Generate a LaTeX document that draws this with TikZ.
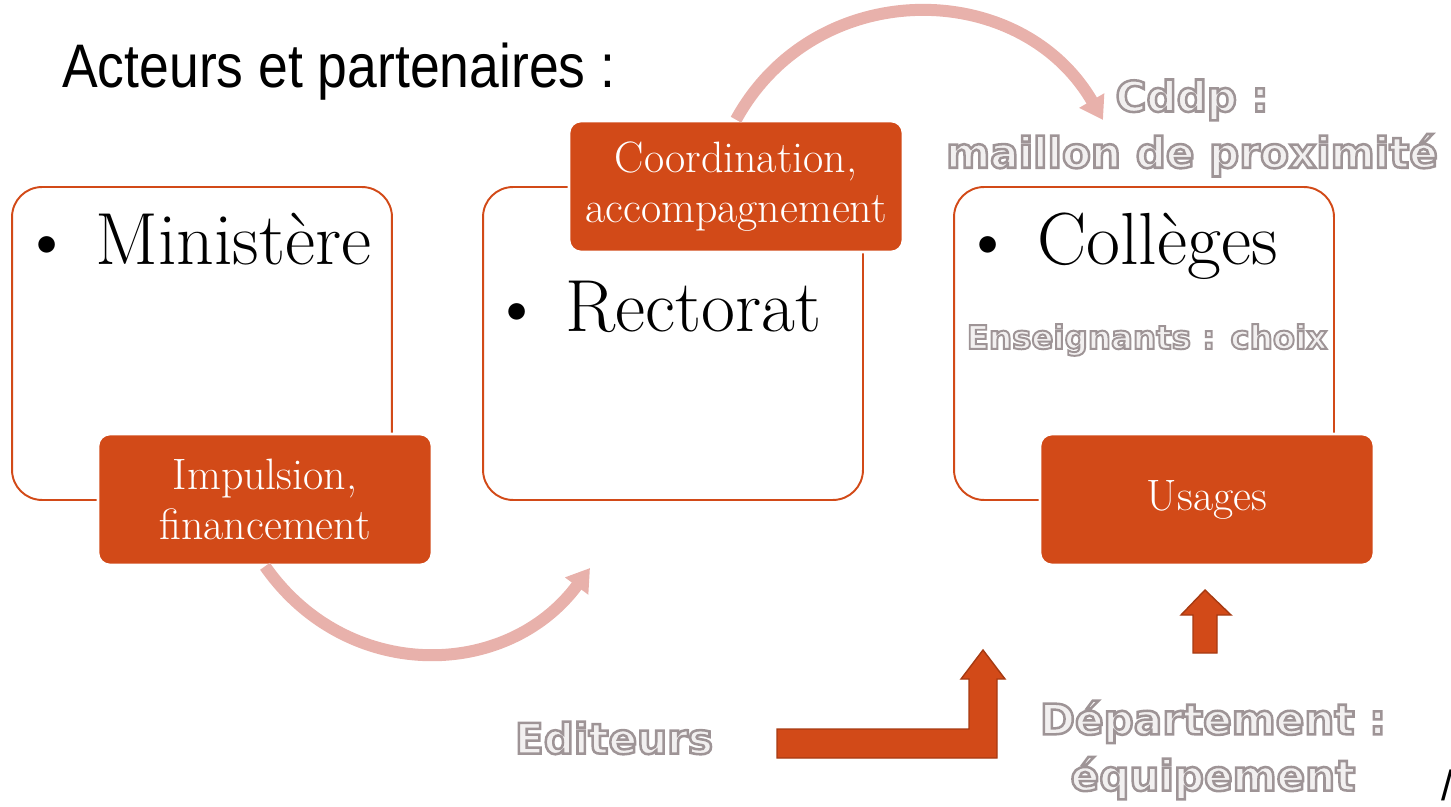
\documentclass[tikz,border=0pt]{standalone}
\usepackage{fontspec}
\usetikzlibrary{arrows.meta}
\newfontfamily\titlefont{Liberation Sans}
\newfontfamily\ghostfont{DejaVu Sans Bold}[FakeBold=6]
\definecolor{rust}{HTML}{D24A18}
\definecolor{rustdark}{HTML}{A63A12}
\definecolor{blush}{HTML}{E8B1AB}
% hollow letters: light fill, grey stroke
\newcommand\ghost[1]{\special{pdf:bcolor [0.95 0.94 0.94] [0.62 0.58 0.59]}#1\special{pdf:ecolor}}

\begin{document}
\begin{tikzpicture}[x=0.02cm, y=-0.02cm,
  bigbox/.style={draw=rust, line width=1.1pt, fill=white, rounded corners=0.6cm,
    minimum width=7.6cm, minimum height=6.26cm, inner sep=0pt},
  tagbox/.style={draw=white, line width=1.5pt, fill=rust, rounded corners=0.24cm,
    minimum width=6.68cm, minimum height=2.62cm, text=white, align=center,
    font=\fontsize{25}{28.5}\selectfont},
  item/.style={anchor=base west, inner sep=0pt, font=\fontsize{42}{48}\selectfont},
  dot/.style={anchor=base, inner sep=0pt, font=\fontsize{42}{48}\selectfont},
  faded/.style={align=center, inner sep=0pt, font=\ghostfont\fontsize{24}{32}\selectfont},
  flow/.style={draw=blush, line width=0.24cm, -{Triangle[length=0.45cm, width=0.55cm]}},
  block/.style={fill=rust, draw=rustdark, line width=0.8pt}]
\useasboundingbox (0,0) rectangle (1451,807);

\node[anchor=base west, inner sep=0pt, xscale=0.87, font=\titlefont\fontsize{35}{40}\selectfont]
  (title) at (62,88) {Acteurs et partenaires :};

\node[bigbox] (ministere) at (202,343.5) {};
\node[bigbox] (rectorat) at (673,343.5) {};
\node[bigbox] (colleges) at (1144,343.5) {};

\node[dot] (dotA) at (47,265) {\textbullet};
\node[item] (ministereT) at (95,265) {Ministère};
\node[dot] (dotB) at (517,332) {\textbullet};
\node[item] (rectoratT) at (565,332) {Rectorat};
\node[dot] (dotC) at (988,265) {\textbullet};
\node[item] (collegesT) at (1037,265) {Collèges};

\node[tagbox] (impulsion) at (265,499.5) {Impulsion,\\financement};
\node[tagbox] (coordination) at (736,186.5) {Coordination,\\accompagnement};
\node[tagbox] (usages) at (1207,499.5) {Usages};

\coordinate (rectoratIn) at (590,568);
\coordinate (cddpIn) at (1103,120);
\draw[flow] (impulsion.south) .. controls +(82,117) and +(-83,112) .. (rectoratIn);
\draw[flow] (coordination.north) .. controls +(79,-144) and +(-83,-143) .. (cddpIn);

\node[faded] (cddp) at (1192,128) {\ghost{Cddp :}\\\ghost{maillon de proximité}};
\node[faded, font=\ghostfont\fontsize{18.5}{22}\selectfont] (enseignants) at (1147,340)
  {\ghost{Enseignants : choix}};
\node[faded] (editeurs) at (614,738) {\ghost{Editeurs}};
\node[faded] (departement) at (1213,750) {\ghost{Département :}\\\ghost{équipement}};

\draw[block] (777,729) -- (969,729) -- (969,679) -- (961,679) -- (983,650)
  -- (1005,679) -- (997,679) -- (997,758) -- (777,758) -- cycle;
\draw[block] (1193,653) -- (1193,615) -- (1181,615) -- (1205,590)
  -- (1231,615) -- (1217,615) -- (1217,653) -- cycle;

\node[anchor=base west, inner sep=0pt, font=\titlefont\fontsize{24}{24}\selectfont]
  (pagemark) at (1441,800) {/};
\end{tikzpicture}
\end{document}
